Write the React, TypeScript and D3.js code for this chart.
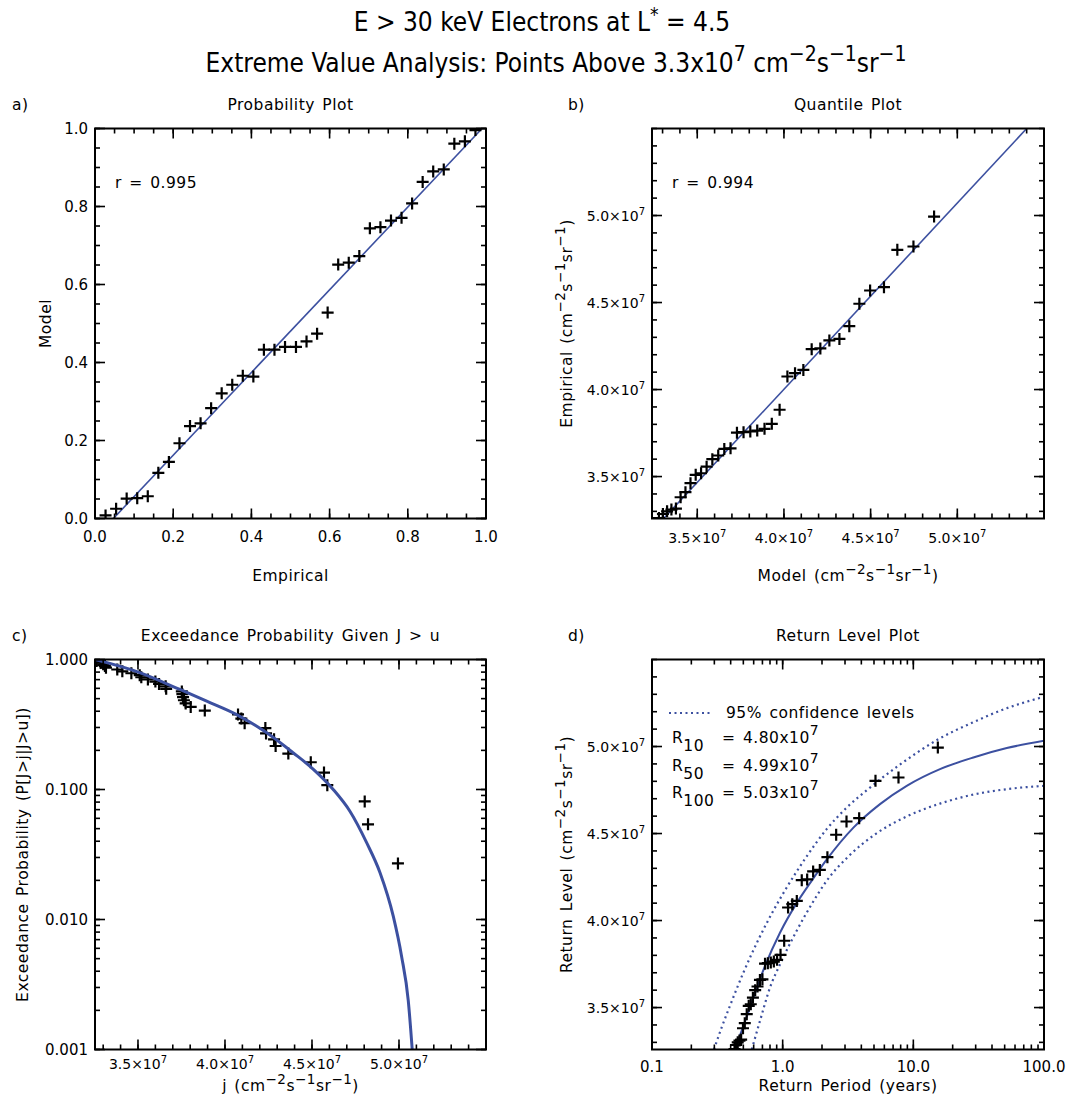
import React from "react";
import * as d3 from "d3";

const W = 1084;
const H = 1101;
const FONT = "'DejaVu Sans', sans-serif";
const TITLE_FONT = "'Liberation Sans Narrow', 'DejaVu Sans Condensed', sans-serif";
const BLUE = "#3c50a0";

// ---- data (flux in units of 1e7 cm^-2 s^-1 sr^-1) ----
const empiricalProb = [0.027, 0.054, 0.081, 0.108, 0.135, 0.162, 0.189, 0.216, 0.243, 0.270, 0.297, 0.324, 0.351, 0.378, 0.405, 0.432, 0.459, 0.486, 0.514, 0.541, 0.568, 0.595, 0.622, 0.649, 0.676, 0.703, 0.730, 0.757, 0.784, 0.811, 0.838, 0.865, 0.892, 0.919, 0.946, 0.973];
const modelProb = [0.008, 0.025, 0.051, 0.052, 0.057, 0.117, 0.145, 0.193, 0.237, 0.244, 0.283, 0.321, 0.343, 0.366, 0.364, 0.433, 0.433, 0.440, 0.440, 0.454, 0.474, 0.528, 0.651, 0.656, 0.673, 0.744, 0.747, 0.764, 0.771, 0.808, 0.863, 0.890, 0.895, 0.961, 0.967, 0.996];
const modelFlux = [3.279, 3.302, 3.326, 3.351, 3.377, 3.404, 3.432, 3.461, 3.491, 3.522, 3.554, 3.587, 3.621, 3.656, 3.692, 3.729, 3.767, 3.806, 3.846, 3.888, 3.930, 3.975, 4.020, 4.064, 4.112, 4.160, 4.210, 4.262, 4.320, 4.377, 4.435, 4.497, 4.577, 4.654, 4.747, 4.866];
const flux = [3.262, 3.285, 3.300, 3.310, 3.316, 3.381, 3.410, 3.462, 3.510, 3.519, 3.557, 3.600, 3.621, 3.659, 3.662, 3.752, 3.755, 3.759, 3.764, 3.774, 3.803, 3.884, 4.075, 4.094, 4.113, 4.232, 4.236, 4.282, 4.291, 4.364, 4.493, 4.569, 4.588, 4.803, 4.822, 4.994];
const exceedProb = [0.973, 0.946, 0.919, 0.892, 0.865, 0.838, 0.811, 0.784, 0.757, 0.730, 0.703, 0.676, 0.649, 0.622, 0.595, 0.568, 0.541, 0.514, 0.486, 0.459, 0.432, 0.405, 0.378, 0.351, 0.324, 0.297, 0.270, 0.243, 0.216, 0.189, 0.162, 0.135, 0.108, 0.081, 0.054, 0.027];
const returnPeriod = [0.428, 0.440, 0.453, 0.467, 0.481, 0.497, 0.513, 0.531, 0.550, 0.570, 0.592, 0.616, 0.642, 0.670, 0.700, 0.733, 0.770, 0.811, 0.856, 0.906, 0.963, 1.027, 1.100, 1.185, 1.283, 1.400, 1.540, 1.711, 1.925, 2.200, 2.567, 3.080, 3.850, 5.133, 7.700, 15.40];

// fit lines
const probFitX = [0.047, 0.99];
const probFitY = [0.0, 1.0];
const quantFitX = [3.306, 5.40];
const quantFitY = [3.259, 5.50];

// GPD exceedance curve (panel c)
const gpdFlux = [3.253, 3.502, 3.741, 3.895, 4.067, 4.240, 4.393, 4.508, 4.622, 4.718, 4.814, 4.891, 4.967, 5.015, 5.053, 5.076];
const gpdProb = [1.0, 0.80, 0.588, 0.478, 0.377, 0.273, 0.191, 0.143, 0.100, 0.068, 0.039, 0.0229, 0.0106, 0.0052, 0.0024, 0.001];

// return level curve and 95% confidence bounds (panel d)
const rlPeriod = [0.431, 0.562, 0.733, 0.954, 1.28, 1.62, 2.17, 3.48, 5.56, 8.9, 16, 28.8, 51.9, 100];
const rlLevel = [3.259, 3.50, 3.74, 3.93, 4.10, 4.215, 4.35, 4.534, 4.669, 4.774, 4.870, 4.937, 4.991, 5.033];
const upperPeriod = [0.298, 0.341, 0.395, 0.5, 0.652, 0.825, 1.074, 1.5, 2.17, 3.09, 4.66, 7.7, 15.4, 28.8, 51.9, 100];
const upperLevel = [3.259, 3.385, 3.51, 3.70, 3.89, 4.04, 4.19, 4.36, 4.525, 4.649, 4.764, 4.89, 5.04, 5.14, 5.22, 5.286];
const lowerPeriod = [0.58, 0.671, 0.80, 0.955, 1.28, 1.667, 2.17, 3.2, 5.2, 9.0, 16, 28.8, 51.9, 100];
const lowerLevel = [3.259, 3.424, 3.615, 3.749, 3.941, 4.094, 4.228, 4.37, 4.50, 4.60, 4.672, 4.724, 4.755, 4.774];

// tick labels
const probTicks = [0, 0.2, 0.4, 0.6, 0.8, 1.0];
const fluxTicks = [3.5, 4.0, 4.5, 5.0];
const exceedTicks = [1, 0.1, 0.01, 0.001];
const exceedLabels = ["1.000", "0.100", "0.010", "0.001"];
const periodTicks = [0.1, 1, 10, 100];
const periodLabels = ["0.1", "1.0", "10.0", "100.0"];

// return level summary
const rlYears = ["10", "50", "100"];
const rlValues = ["4.80", "4.99", "5.03"];

// panel boxes
const LX0 = 95, LX1 = 486, RX0 = 652, RX1 = 1044;
const TY0 = 128.5, TY1 = 518.5, BY0 = 659.5, BY1 = 1049.5;

// text style used for titles, axis names and annotations (IDL-like wide spacing)
const LBL = { fontSize: 15.5, letterSpacing: 0.5, wordSpacing: 2 };

type Sc = any;

function Frame({ x, y, xMajor, xMinor, yMajor, yMinor }: { x: Sc; y: Sc; xMajor: number[]; xMinor: number[]; yMajor: number[]; yMinor: number[] }) {
  const [x0, x1] = x.range();
  const [yb, yt] = y.range();
  const tick = (k: string, a: number, b: number, c: number, d: number) => (
    <line key={k} x1={a} y1={b} x2={c} y2={d} stroke="#000" strokeWidth={1.6} />
  );
  const out: any[] = [];
  xMinor.forEach((v, i) => {
    const px = x(v);
    out.push(tick("xm" + i, px, yb, px, yb - 5));
    out.push(tick("xt" + i, px, yt, px, yt + 5));
  });
  xMajor.forEach((v, i) => {
    const px = x(v);
    out.push(tick("xM" + i, px, yb, px, yb - 10));
    out.push(tick("xT" + i, px, yt, px, yt + 10));
  });
  yMinor.forEach((v, i) => {
    const py = y(v);
    out.push(tick("ym" + i, x0, py, x0 + 5, py));
    out.push(tick("yr" + i, x1, py, x1 - 5, py));
  });
  yMajor.forEach((v, i) => {
    const py = y(v);
    out.push(tick("yM" + i, x0, py, x0 + 10, py));
    out.push(tick("yR" + i, x1, py, x1 - 10, py));
  });
  return (
    <g>
      {out}
      <rect x={x0} y={yt} width={x1 - x0} height={yb - yt} fill="none" stroke="#000" strokeWidth={2} />
    </g>
  );
}

function Crosses({ xs, ys, x, y, clip }: { xs: number[]; ys: number[]; x: Sc; y: Sc; clip: string }) {
  return (
    <g clipPath={`url(#${clip})`}>
      {xs.map((v, i) => (
        <path key={i} d={`M${x(v) - 6},${y(ys[i])}h12M${x(v)},${y(ys[i]) - 6}v12`} stroke="#000" strokeWidth={2.2} fill="none" />
      ))}
    </g>
  );
}

function Curve({ xs, ys, x, y, clip, width = 1.6, dash }: { xs: number[]; ys: number[]; x: Sc; y: Sc; clip: string; width?: number; dash?: string }) {
  const line = d3.line<number>()
    .x((v) => x(v))
    .y((_, i) => y(ys[i]))
    .curve(d3.curveMonotoneX);
  return (
    <path d={line(xs) || ""} fill="none" stroke={BLUE} strokeWidth={width} strokeDasharray={dash} clipPath={`url(#${clip})`} />
  );
}

// "(cm^-2 s^-1 sr^-1)" with raised exponents
function Units() {
  return (
    <>
      {" (cm"}
      <tspan dy={-7} fontSize={13.5}>−2</tspan>
      <tspan dy={7}>s</tspan>
      <tspan dy={-7} fontSize={13.5}>−1</tspan>
      <tspan dy={7}>sr</tspan>
      <tspan dy={-7} fontSize={13.5}>−1</tspan>
      <tspan dy={7}>)</tspan>
    </>
  );
}

function SciLabel({ v, px, py, anchor }: { v: number; px: number; py: number; anchor: "middle" | "end" }) {
  return (
    <text x={px} y={py} textAnchor={anchor} fontSize={14}>
      {v.toFixed(1)}×10<tspan dy={-6} fontSize={10}>7</tspan>
    </text>
  );
}

export default function App() {
  // panel a
  const xA = d3.scaleLinear().domain([0, 1]).range([LX0, LX1]);
  const yA = d3.scaleLinear().domain([0, 1]).range([TY1, TY0]);
  // panel b
  const xB = d3.scaleLinear().domain([3.239, 5.5]).range([RX0, RX1]);
  const yB = d3.scaleLinear().domain([3.259, 5.5]).range([TY1, TY0]);
  // panel c
  const xC = d3.scaleLinear().domain([3.253, 5.5]).range([LX0, LX1]);
  const yC = d3.scaleLog().domain([0.001, 1]).range([BY1, BY0]);
  // panel d
  const xD = d3.scaleLog().domain([0.1, 100]).range([RX0, RX1]);
  const yD = d3.scaleLinear().domain([3.259, 5.5]).range([BY1, BY0]);

  const fluxMinorB = xB.ticks(22);
  const fluxMinorY = yB.ticks(22);
  const fluxMinorC = xC.ticks(22);

  return (
    <svg width={W} height={H} viewBox={`0 0 ${W} ${H}`} style={{ display: "block", background: "#fff" }} fontFamily={FONT}>
      <style>{`body{margin:0}`}</style>
      <defs>
        <clipPath id="clipA"><rect x={LX0} y={TY0} width={LX1 - LX0} height={TY1 - TY0} /></clipPath>
        <clipPath id="clipB"><rect x={RX0} y={TY0} width={RX1 - RX0} height={TY1 - TY0} /></clipPath>
        <clipPath id="clipC"><rect x={LX0} y={BY0} width={LX1 - LX0} height={BY1 - BY0} /></clipPath>
        <clipPath id="clipD"><rect x={RX0} y={BY0} width={RX1 - RX0} height={BY1 - BY0} /></clipPath>
      </defs>
      <rect width={W} height={H} fill="#fff" />

      {/* main titles */}
      <text x={542} y={31} textAnchor="middle" fontFamily={TITLE_FONT} fontSize={26}>
        E &gt; 30 keV Electrons at L<tspan dy={-10} fontSize={19}>*</tspan><tspan dy={10}> = 4.5</tspan>
      </text>
      <text x={556} y={72} textAnchor="middle" fontFamily={TITLE_FONT} fontSize={26}>
        Extreme Value Analysis: Points Above 3.3x10<tspan dy={-11} fontSize={21}>7</tspan>
        <tspan dy={11}> cm</tspan><tspan dy={-11} fontSize={21}>−2</tspan>
        <tspan dy={11}>s</tspan><tspan dy={-11} fontSize={21}>−1</tspan>
        <tspan dy={11}>sr</tspan><tspan dy={-11} fontSize={21}>−1</tspan>
      </text>

      {/* ---------- panel a ---------- */}
      <text x={12} y={110} {...LBL}>a)</text>
      <text x={(LX0 + LX1) / 2} y={110} textAnchor="middle" {...LBL}>Probability Plot</text>
      <Curve xs={probFitX} ys={probFitY} x={xA} y={yA} clip="clipA" />
      <Crosses xs={empiricalProb} ys={modelProb} x={xA} y={yA} clip="clipA" />
      <Frame x={xA} y={yA} xMajor={probTicks} xMinor={xA.ticks(20)} yMajor={probTicks} yMinor={yA.ticks(20)} />
      {probTicks.map((v) => (
        <text key={"ax" + v} x={xA(v)} y={TY1 + 23} textAnchor="middle" fontSize={15}>{v.toFixed(1)}</text>
      ))}
      {probTicks.map((v) => (
        <text key={"ay" + v} x={LX0 - 7} y={yA(v) + 5} textAnchor="end" fontSize={15}>{v.toFixed(1)}</text>
      ))}
      <text x={(LX0 + LX1) / 2} y={581} textAnchor="middle" {...LBL}>Empirical</text>
      <text transform={`translate(51,${(TY0 + TY1) / 2}) rotate(-90)`} textAnchor="middle" {...LBL}>Model</text>
      <text x={115} y={188} {...LBL}>r = 0.995</text>

      {/* ---------- panel b ---------- */}
      <text x={568} y={110} {...LBL}>b)</text>
      <text x={(RX0 + RX1) / 2} y={110} textAnchor="middle" {...LBL}>Quantile Plot</text>
      <Curve xs={quantFitX} ys={quantFitY} x={xB} y={yB} clip="clipB" />
      <Crosses xs={modelFlux} ys={flux} x={xB} y={yB} clip="clipB" />
      <Frame x={xB} y={yB} xMajor={fluxTicks} xMinor={fluxMinorB} yMajor={fluxTicks} yMinor={fluxMinorY} />
      {fluxTicks.map((v) => (
        <SciLabel key={"bx" + v} v={v} px={xB(v)} py={TY1 + 24} anchor="middle" />
      ))}
      {fluxTicks.map((v) => (
        <SciLabel key={"by" + v} v={v} px={RX0 - 7} py={yB(v) + 5} anchor="end" />
      ))}
      <text x={(RX0 + RX1) / 2} y={581} textAnchor="middle" {...LBL}>Model<Units /></text>
      <text transform={`translate(572,${(TY0 + TY1) / 2}) rotate(-90)`} textAnchor="middle" {...LBL}>Empirical<Units /></text>
      <text x={672} y={188} {...LBL}>r = 0.994</text>

      {/* ---------- panel c ---------- */}
      <text x={12} y={641} {...LBL}>c)</text>
      <text x={(LX0 + LX1) / 2} y={641} textAnchor="middle" {...LBL}>Exceedance Probability Given J &gt; u</text>
      <Crosses xs={flux} ys={exceedProb} x={xC} y={yC} clip="clipC" />
      <Curve xs={gpdFlux} ys={gpdProb} x={xC} y={yC} clip="clipC" width={3} />
      <Frame x={xC} y={yC} xMajor={fluxTicks} xMinor={fluxMinorC} yMajor={exceedTicks} yMinor={yC.ticks()} />
      {fluxTicks.map((v) => (
        <SciLabel key={"cx" + v} v={v} px={xC(v)} py={BY1 + 19} anchor="middle" />
      ))}
      {exceedTicks.map((v, i) => (
        <text key={"cy" + v} x={LX0 - 7} y={yC(v) + 5} textAnchor="end" fontSize={15}>{exceedLabels[i]}</text>
      ))}
      <text x={(LX0 + LX1) / 2} y={1091} textAnchor="middle" {...LBL}>j<Units /></text>
      <text transform={`translate(28,${(BY0 + BY1) / 2}) rotate(-90)`} textAnchor="middle" {...LBL}>Exceedance Probability (P[J&gt;j|J&gt;u])</text>

      {/* ---------- panel d ---------- */}
      <text x={568} y={641} {...LBL}>d)</text>
      <text x={(RX0 + RX1) / 2} y={641} textAnchor="middle" {...LBL}>Return Level Plot</text>
      <Curve xs={upperPeriod} ys={upperLevel} x={xD} y={yD} clip="clipD" width={2.2} dash="2 3.5" />
      <Curve xs={lowerPeriod} ys={lowerLevel} x={xD} y={yD} clip="clipD" width={2.2} dash="2 3.5" />
      <Curve xs={rlPeriod} ys={rlLevel} x={xD} y={yD} clip="clipD" width={2} />
      <Crosses xs={returnPeriod} ys={flux} x={xD} y={yD} clip="clipD" />
      <Frame x={xD} y={yD} xMajor={periodTicks} xMinor={xD.ticks()} yMajor={fluxTicks} yMinor={fluxMinorY} />
      {periodTicks.map((v, i) => (
        <text key={"dx" + v} x={xD(v)} y={BY1 + 22} textAnchor="middle" fontSize={15}>{periodLabels[i]}</text>
      ))}
      {fluxTicks.map((v) => (
        <SciLabel key={"dy" + v} v={v} px={RX0 - 7} py={yD(v) + 5} anchor="end" />
      ))}
      <text x={(RX0 + RX1) / 2} y={1091} textAnchor="middle" {...LBL}>Return Period (years)</text>
      <text transform={`translate(572,${(BY0 + BY1) / 2}) rotate(-90)`} textAnchor="middle" {...LBL}>Return Level<Units /></text>

      {/* legend */}
      <line x1={669} x2={713} y1={713} y2={713} stroke={BLUE} strokeWidth={2.2} strokeDasharray="2 3.5" />
      <text x={726} y={718} {...LBL}>95% confidence levels</text>
      {rlYears.map((yr, i) => (
        <g key={yr}>
          <text x={672} y={743 + i * 27.5} {...LBL}>
            R<tspan dy={8}>{yr}</tspan>
          </text>
          <text x={722} y={743 + i * 27.5} {...LBL}>
            = {rlValues[i]}x10<tspan dy={-8} fontSize={14}>7</tspan>
          </text>
        </g>
      ))}
    </svg>
  );
}
